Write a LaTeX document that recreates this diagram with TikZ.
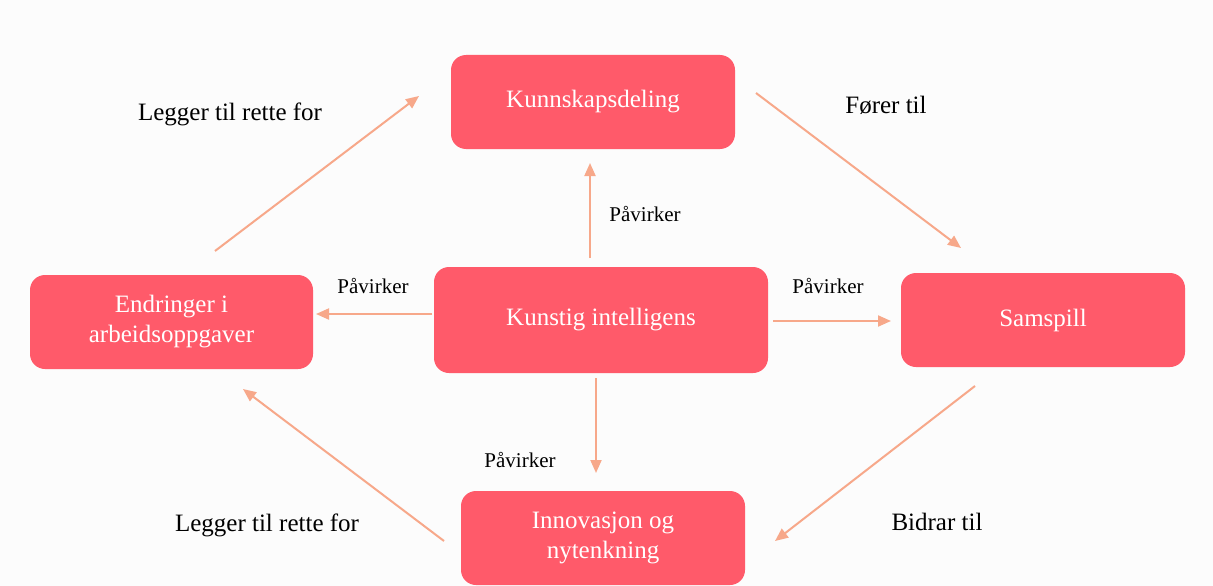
\documentclass[tikz,border=0pt]{standalone}
\usepackage{fontspec}
\setmainfont{Liberation Serif}
\usetikzlibrary{arrows.meta}
\definecolor{boxred}{RGB}{255,90,106}
\definecolor{linkorange}{RGB}{247,168,138}
\definecolor{paper}{RGB}{252,252,252}
\tikzset{
  box/.style={fill=boxred, rounded corners=15pt, text=white, align=center,
    font=\fontsize{25}{30}\selectfont, inner sep=0pt},
  link/.style={draw=linkorange, line width=2pt,
    -{Triangle[length=13pt,width=11pt]}},
  biglabel/.style={font=\fontsize{25}{30}\selectfont, text=black},
  smalllabel/.style={font=\fontsize{21}{25}\selectfont, text=black},
}
\begin{document}
\begin{tikzpicture}[x=1pt,y=-1pt]
  \fill[paper] (0,0) rectangle (1213,586);
  \useasboundingbox (0,0) rectangle (1213,586);

  % boxes
  \node[box, minimum width=284pt, minimum height=94pt] (kd) at (593,102) {Kunnskapsdeling};
  \node[box, minimum width=334pt, minimum height=106pt] (ki) at (601,320) {Kunstig intelligens};
  \node[box, minimum width=283pt, minimum height=94pt] (ea) at (171.5,322) {Endringer i\\arbeidsoppgaver};
  \node[box, minimum width=284pt, minimum height=94pt] (sp) at (1043,320) {Samspill};
  \node[box, minimum width=284pt, minimum height=94pt] (in) at (603,538) {Innovasjon og\\nytenkning};

  % connector end points
  \coordinate (kiN) at (590,258);
  \coordinate (kdS) at (590,163);
  \coordinate (kiW) at (432,314);
  \coordinate (eaE) at (316,314);
  \coordinate (kiE) at (773,321);
  \coordinate (spW) at (891,321);
  \coordinate (kiS) at (596,378);
  \coordinate (inN) at (596,473);
  \coordinate (eaNE) at (215,251);
  \coordinate (kdW) at (419,96);
  \coordinate (kdE) at (756,93);
  \coordinate (spNW) at (961,248);
  \coordinate (spSW) at (975,386);
  \coordinate (inE) at (775,541);
  \coordinate (inW) at (444,541);
  \coordinate (eaSE) at (243,389);

  % influences from the centre
  \draw[link] (kiN) -- (kdS);
  \draw[link] (kiW) -- (eaE);
  \draw[link] (kiE) -- (spW);
  \draw[link] (kiS) -- (inN);

  % outer cycle
  \draw[link] (eaNE) -- (kdW);
  \draw[link] (kdE) -- (spNW);
  \draw[link] (spSW) -- (inE);
  \draw[link] (inW) -- (eaSE);

  % labels
  \node[smalllabel] (l1) at (645,214) {Påvirker};
  \node[smalllabel] (l2) at (373,286) {Påvirker};
  \node[smalllabel] (l3) at (828,286) {Påvirker};
  \node[smalllabel] (l4) at (520,460) {Påvirker};
  \node[biglabel] (l5) at (230,114) {Legger til rette for};
  \node[biglabel] (l6) at (886,105) {Fører til};
  \node[biglabel] (l7) at (937,522) {Bidrar til};
  \node[biglabel] (l8) at (267,525) {Legger til rette for};
\end{tikzpicture}
\end{document}
